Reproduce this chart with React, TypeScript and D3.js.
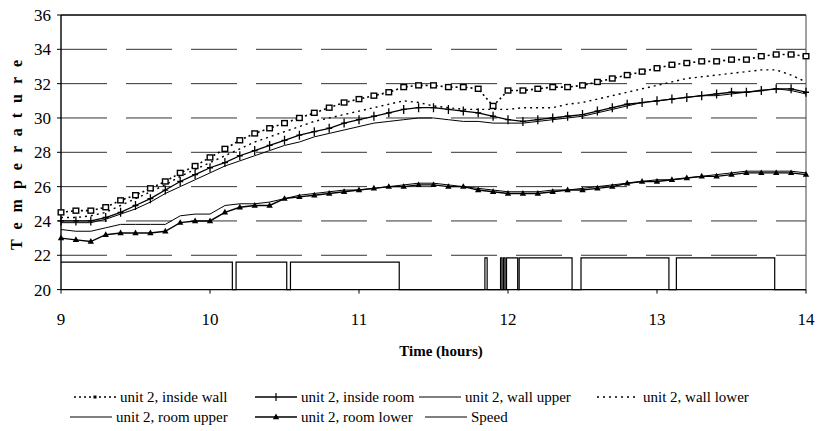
import React from "react";
import * as d3 from "d3";

// sample times (hours)
const hours = [
  9.0, 9.1, 9.2, 9.3, 9.4, 9.5, 9.6, 9.7, 9.8, 9.9,
  10.0, 10.1, 10.2, 10.3, 10.4, 10.5, 10.6, 10.7, 10.8, 10.9,
  11.0, 11.1, 11.2, 11.3, 11.4, 11.5, 11.6, 11.7, 11.8, 11.9,
  12.0, 12.1, 12.2, 12.3, 12.4, 12.5, 12.6, 12.7, 12.8, 12.9,
  13.0, 13.1, 13.2, 13.3, 13.4, 13.5, 13.6, 13.7, 13.8, 13.9, 14.0,
];

const insideWall = [
  24.5, 24.6, 24.6, 24.8, 25.2, 25.5, 25.9, 26.3, 26.8, 27.2,
  27.7, 28.2, 28.7, 29.1, 29.4, 29.7, 30.0, 30.3, 30.6, 30.9,
  31.1, 31.3, 31.5, 31.8, 31.9, 31.9, 31.8, 31.8, 31.7, 30.7,
  31.6, 31.6, 31.7, 31.8, 31.8, 31.9, 32.1, 32.3, 32.5, 32.7,
  32.9, 33.1, 33.2, 33.3, 33.3, 33.4, 33.4, 33.6, 33.7, 33.7, 33.6,
];

const insideRoom = [
  24.0, 24.0, 24.0, 24.2, 24.5, 24.9, 25.3, 25.8, 26.3, 26.7,
  27.1, 27.4, 27.8, 28.1, 28.4, 28.7, 29.0, 29.2, 29.4, 29.7,
  29.9, 30.1, 30.3, 30.5, 30.6, 30.6, 30.5, 30.4, 30.3, 30.1,
  29.9, 29.8, 29.9, 30.0, 30.1, 30.2, 30.4, 30.6, 30.8, 30.9,
  31.0, 31.1, 31.2, 31.3, 31.4, 31.5, 31.5, 31.6, 31.7, 31.7, 31.5,
];

const wallUpper = [
  23.9, 23.9, 23.9, 24.1, 24.4, 24.7, 25.1, 25.6, 26.0, 26.4,
  26.8, 27.2, 27.5, 27.8, 28.1, 28.4, 28.6, 28.9, 29.1, 29.3,
  29.5, 29.7, 29.8, 29.9, 30.0, 30.0, 29.9, 29.8, 29.8, 29.7,
  29.7, 29.7, 29.8, 29.9, 30.0, 30.1, 30.3, 30.5, 30.7, 30.9,
  31.0, 31.1, 31.2, 31.3, 31.3, 31.4, 31.5, 31.6, 31.7, 31.6, 31.4,
];

const wallLower = [
  24.2, 24.2, 24.3, 24.5, 24.9, 25.3, 25.7, 26.1, 26.6, 27.0,
  27.4, 27.8, 28.2, 28.6, 28.9, 29.2, 29.5, 29.8, 30.0, 30.2,
  30.4, 30.6, 30.8, 31.0, 30.9, 30.7, 30.6, 30.5, 30.5, 30.5,
  30.5, 30.6, 30.6, 30.6, 30.8, 30.9, 31.1, 31.3, 31.5, 31.7,
  31.9, 32.1, 32.3, 32.4, 32.5, 32.6, 32.7, 32.8, 32.8, 32.5, 32.1,
];

const roomUpper = [
  23.5, 23.4, 23.4, 23.6, 23.8, 23.8, 23.8, 23.8, 24.3, 24.4,
  24.4, 24.9, 25.0, 25.0, 25.1, 25.3, 25.5, 25.6, 25.7, 25.8,
  25.8, 25.9, 26.0, 26.1, 26.2, 26.2, 26.1, 26.0, 25.9, 25.8,
  25.7, 25.7, 25.7, 25.8, 25.8, 25.9, 26.0, 26.1, 26.2, 26.3,
  26.4, 26.4, 26.5, 26.6, 26.7, 26.8, 26.9, 26.9, 26.9, 26.9, 26.8,
];

const roomLower = [
  23.0, 22.9, 22.8, 23.2, 23.3, 23.3, 23.3, 23.4, 23.9, 24.0,
  24.0, 24.5, 24.8, 24.9, 24.9, 25.3, 25.4, 25.5, 25.6, 25.7,
  25.8, 25.9, 26.0, 26.0, 26.1, 26.1, 26.0, 26.0, 25.8, 25.7,
  25.6, 25.6, 25.6, 25.7, 25.8, 25.8, 25.9, 26.0, 26.2, 26.3,
  26.3, 26.4, 26.5, 26.6, 26.6, 26.7, 26.8, 26.8, 26.8, 26.8, 26.7,
];

// fan speed, drawn as a step line on the temperature scale
const speedTimes = [
  9.0, 10.15, 10.175, 10.515, 10.54, 11.27, 11.845, 11.86, 11.95, 11.96,
  11.97, 11.98, 11.99, 12.065, 12.075, 12.43, 12.49, 13.08, 13.13, 13.79, 14.0,
];
const speedValues = [
  21.6, 20, 21.6, 20, 21.6, 20, 21.85, 20, 21.85, 20,
  21.85, 20, 21.85, 20, 21.85, 20, 21.85, 20, 21.85, 20, 20,
];

const yTicks = [20, 22, 24, 26, 28, 30, 32, 34, 36];
const xTicks = [9, 10, 11, 12, 13, 14];

const legendRow1 = ["unit 2, inside wall", "unit 2, inside room", "unit 2, wall upper", "unit 2, wall lower"];
const legendRow2 = ["unit 2, room upper", "unit 2, room lower", "Speed"];

const FONT = "'Liberation Serif', 'Times New Roman', serif";

export default function App() {
  const width = 817;
  const height = 431;

  const x = d3.scaleLinear().domain([9, 14]).range([61, 806]);
  const y = d3.scaleLinear().domain([20, 36]).range([289.6, 15]);

  const mk = (vals: number[]) => hours.map((h, i) => [h, vals[i]] as [number, number]);
  const line = d3.line<[number, number]>().x(d => x(d[0])).y(d => y(d[1]));
  const stepLine = d3.line<[number, number]>().x(d => x(d[0])).y(d => y(d[1])).curve(d3.curveStepAfter);

  const speedPts = speedTimes.map((t, i) => [t, speedValues[i]] as [number, number]);

  const square = (cx: number, cy: number, k: number) => (
    <rect key={k} x={cx - 2.8} y={cy - 2.5} width={5.6} height={5} fill="white" stroke="#000" strokeWidth={1.4} />
  );
  const plus = (cx: number, cy: number, k: number) => (
    <path key={k} d={`M${cx - 3},${cy}H${cx + 3}M${cx},${cy - 4.5}V${cy + 4.5}`} stroke="#000" strokeWidth={1.3} />
  );
  const tri = (cx: number, cy: number, k: number) => (
    <path key={k} d={`M${cx},${cy - 3.5}L${cx + 3.2},${cy + 2.2}L${cx - 3.2},${cy + 2.2}Z`} fill="#000" />
  );

  const styles: Record<string, { dash?: string; w: number; marker?: (cx: number, cy: number, k: number) => JSX.Element }> = {
    insideWall: { dash: "2 3", w: 1.6, marker: square },
    insideRoom: { w: 1.3, marker: plus },
    wallUpper: { w: 1 },
    wallLower: { dash: "2 4", w: 1.4 },
    roomUpper: { w: 1 },
    roomLower: { w: 1.4, marker: tri },
  };

  const series: [string, number[]][] = [
    ["roomUpper", roomUpper],
    ["roomLower", roomLower],
    ["wallUpper", wallUpper],
    ["insideRoom", insideRoom],
    ["wallLower", wallLower],
    ["insideWall", insideWall],
  ];

  // legend layout (swatch start x for each column)
  const row1X = [74, 255, 419, 597];
  const row2X = [70, 255, 425];
  const row1Keys = ["insideWall", "insideRoom", "wallUpper", "wallLower"];
  const row2Keys = ["roomUpper", "roomLower", "speed"];

  const swatch = (key: string, sx: number, sy: number) => {
    const len = 42;
    const st = key === "speed" ? { w: 1.2 } : styles[key];
    return (
      <g key={key}>
        <line x1={sx} x2={sx + len} y1={sy} y2={sy} stroke="#000" strokeWidth={st.w} strokeDasharray={st.dash} />
        {key === "insideWall" && <rect x={sx + len / 2 - 1.5} y={sy - 1.5} width={3} height={3} fill="#000" />}
        {key === "insideRoom" && <path d={`M${sx + len / 2},${sy - 4}V${sy + 4}`} stroke="#000" strokeWidth={1.2} />}
        {key === "roomLower" && tri(sx + len / 2, sy, 0)}
      </g>
    );
  };

  return (
    <div style={{ position: "absolute", left: 0, top: 0 }}>
      <svg width={width} height={height} style={{ display: "block", background: "#fff" }} fontFamily={FONT}>
        {/* dashed gridlines */}
        {yTicks.filter(v => v > 20 && v < 36).map(v => (
          <line key={v} x1={x(9)} x2={x(14)} y1={y(v)} y2={y(v)} stroke="#333" strokeWidth={1} strokeDasharray="46 19" />
        ))}
        {/* plot frame */}
        <line x1={x(9)} x2={x(14)} y1={y(36)} y2={y(36)} stroke="#000" strokeWidth={1.6} />
        <line x1={x(14)} x2={x(14)} y1={y(36)} y2={y(20)} stroke="#444" strokeWidth={1} />
        <line x1={x(9)} x2={x(14)} y1={y(20)} y2={y(20)} stroke="#000" strokeWidth={1.4} />
        <line x1={x(9)} x2={x(9)} y1={y(36)} y2={y(20)} stroke="#000" strokeWidth={1.4} />

        {/* ticks */}
        {yTicks.map(v => (
          <g key={v}>
            <line x1={x(9) - 4} x2={x(9)} y1={y(v)} y2={y(v)} stroke="#000" strokeWidth={1} />
            <text x={51} y={y(v)} dy="0.35em" textAnchor="end" fontSize={17}>{v}</text>
          </g>
        ))}
        {xTicks.map(t => (
          <g key={t}>
            <line x1={x(t)} x2={x(t)} y1={y(20)} y2={y(20) + 4} stroke="#000" strokeWidth={1} />
            <text x={x(t)} y={325} textAnchor="middle" fontSize={17}>{t}</text>
          </g>
        ))}

        {/* speed */}
        <path d={stepLine(speedPts) || ""} fill="none" stroke="#000" strokeWidth={1.2} />

        {/* temperature series */}
        {series.map(([key, vals]) => {
          const st = styles[key];
          const pts = mk(vals);
          return (
            <g key={key}>
              <path d={line(pts) || ""} fill="none" stroke="#000" strokeWidth={st.w} strokeDasharray={st.dash} />
              {st.marker && pts.map((p, i) => st.marker!(x(p[0]), y(p[1]), i))}
            </g>
          );
        })}

        {/* axis titles */}
        <text x={441} y={356} textAnchor="middle" fontSize={15} fontWeight="bold">Time (hours)</text>
        <text
          transform={`translate(22,155) rotate(-90)`}
          textAnchor="middle"
          fontSize={16}
          fontWeight="bold"
          textLength={190}
          lengthAdjust="spacing"
        >
          T e m p e r a t u r e
        </text>

        {/* legend */}
        {legendRow1.map((label, i) => (
          <g key={label}>
            {swatch(row1Keys[i], row1X[i], 397)}
            <text x={row1X[i] + 46} y={401.5} fontSize={15}>{label}</text>
          </g>
        ))}
        {legendRow2.map((label, i) => (
          <g key={label}>
            {swatch(row2Keys[i], row2X[i], 417)}
            <text x={row2X[i] + 46} y={421.5} fontSize={15}>{label}</text>
          </g>
        ))}
      </svg>
    </div>
  );
}
